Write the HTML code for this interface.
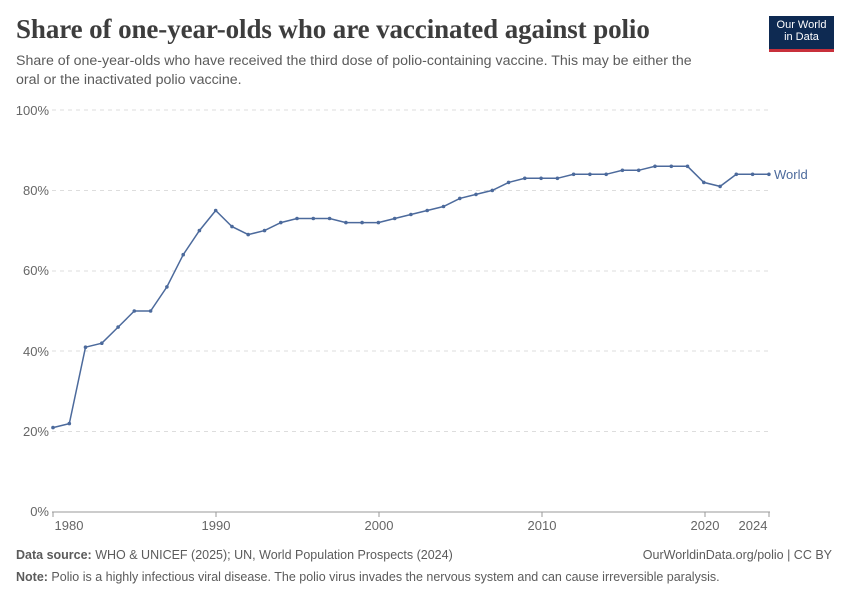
<!DOCTYPE html>
<html><head><meta charset="utf-8"><style>
body{margin:0;background:#fff;font-family:"Liberation Sans",sans-serif;}
.wrap{position:relative;width:850px;height:600px;overflow:hidden}
h1{position:absolute;left:16px;top:14px;margin:0;font-family:"Liberation Serif",serif;font-size:27px;font-weight:bold;color:#3d3d3d;letter-spacing:-0.1px}
.sub{position:absolute;left:16px;top:52px;width:700px;font-size:14.2px;line-height:19px;color:#5b5b5b}
.logo{position:absolute;left:769px;top:16px;width:65px;height:36px;background:#0e2a52;border-bottom:3px solid #c8303b;color:#fff;font-size:11px;line-height:12px;text-align:center;padding-top:3px;box-sizing:border-box}
.foot{position:absolute;left:16px;font-size:12.5px;color:#5b5b5b}
</style></head><body><div class="wrap">
<h1>Share of one-year-olds who are vaccinated against polio</h1>
<div class="sub">Share of one-year-olds who have received the third dose of polio-containing vaccine. This may be either the oral or the inactivated polio vaccine.</div>
<div class="logo">Our World<br>in Data</div>
<svg width="850" height="600" style="position:absolute;left:0;top:0" id="s">
<g stroke="#ddd" stroke-dasharray="4,4" stroke-width="1">
<line x1="52" x2="770" y1="110" y2="110"/><line x1="52" x2="770" y1="190.5" y2="190.5"/><line x1="52" x2="770" y1="271" y2="271"/><line x1="52" x2="770" y1="351" y2="351"/><line x1="52" x2="770" y1="431.5" y2="431.5"/>
</g>
<line x1="52" x2="770" y1="512" y2="512" stroke="#999"/>
<g font-size="13" fill="#666" text-anchor="end">
<text x="49" y="115">100%</text><text x="49" y="195">80%</text><text x="49" y="275">60%</text><text x="49" y="356">40%</text><text x="49" y="436">20%</text><text x="49" y="516">0%</text>
</g>
<g stroke="#999"><line x1="53" x2="53" y1="512" y2="517"/><line x1="216" x2="216" y1="512" y2="517"/><line x1="379" x2="379" y1="512" y2="517"/><line x1="542" x2="542" y1="512" y2="517"/><line x1="705" x2="705" y1="512" y2="517"/><line x1="769" x2="769" y1="512" y2="517"/></g>
<g font-size="13" fill="#666" text-anchor="middle">
<text x="69" y="530">1980</text><text x="216" y="530">1990</text><text x="379" y="530">2000</text><text x="542" y="530">2010</text><text x="705" y="530">2020</text><text x="753" y="530">2024</text>
</g>
<polyline id="pl" fill="none" stroke="#4c6a9c" stroke-width="1.5"/>
<g id="dots" fill="#4c6a9c"></g>
<text x="774" y="179" font-size="13" fill="#4c6a9c">World</text>
</svg>
<div class="foot" style="top:548px"><b>Data source:</b> WHO &amp; UNICEF (2025); UN, World Population Prospects (2024)</div>
<div class="foot" style="top:548px;left:auto;right:18px">OurWorldinData.org/polio | CC BY</div>
<div class="foot" style="top:570px"><b>Note:</b> Polio is a highly infectious viral disease. The polio virus invades the nervous system and can cause irreversible paralysis.</div>
</div>
<script>
var d=[21,22,41,42,46,50,50,56,64,70,75,71,69,70,72,73,73,73,72,72,72,73,74,75,76,78,79,80,82,83,83,83,84,84,84,85,85,86,86,86,82,81,84,84,84];
var pts=[],g=document.getElementById('dots'),h='';
for(var i=0;i<d.length;i++){var x=53+i*16.27,y=512-d[i]*4.02;pts.push(x.toFixed(1)+','+y.toFixed(1));h+='<circle cx="'+x.toFixed(1)+'" cy="'+y.toFixed(1)+'" r="1.8"/>';}
document.getElementById('pl').setAttribute('points',pts.join(' '));
g.innerHTML=h;
</script>
</body></html>
